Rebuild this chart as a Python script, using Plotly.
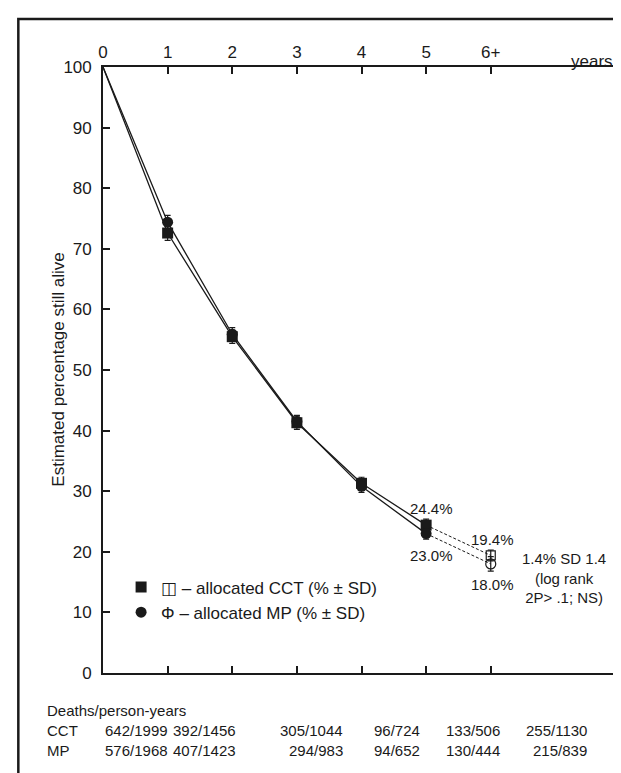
import plotly.graph_objects as go

# ---------------- data ----------------
years = [0, 1, 2, 3, 4, 5]
tick_vals = [0, 1, 2, 3, 4, 5, 6]
tick_labels = ["0", "1", "2", "3", "4", "5", "6+"]
y_ticks = [0, 10, 20, 30, 40, 50, 60, 70, 80, 90, 100]

cct_pct = [100, 72.6, 55.5, 41.3, 31.3, 24.4]
cct_sd = [0, 1.2, 1.1, 1.1, 1.0, 1.0]
mp_pct = [100, 74.4, 55.9, 41.5, 30.8, 23.0]
mp_sd = [0, 1.1, 1.1, 1.0, 1.0, 0.9]

late_year = 6
cct_late = 19.4
cct_late_sd = 0.9
mp_late = 18.0
mp_late_sd = 1.2

cct_deaths = [642, 392, 305, 96, 133, 255]
cct_pyears = [1999, 1456, 1044, 724, 506, 1130]
mp_deaths = [576, 407, 294, 94, 130, 215]
mp_pyears = [1968, 1423, 983, 652, 444, 839]

INK = "#1a1a1a"
FONT = "Liberation Sans, Arial, Helvetica, sans-serif"

fig = go.Figure()

# solid survival lines (0-5 years)
for vals in (cct_pct, mp_pct):
    fig.add_trace(go.Scatter(x=years, y=vals, mode="lines",
                             line=dict(color=INK, width=1.3),
                             showlegend=False, hoverinfo="skip"))
# dashed connectors to 6+
for vals, late in ((cct_pct, cct_late), (mp_pct, mp_late)):
    fig.add_trace(go.Scatter(x=[years[-1], late_year], y=[vals[-1], late],
                             mode="lines",
                             line=dict(color=INK, width=1, dash="3px,2px"),
                             showlegend=False, hoverinfo="skip"))

# filled markers years 1-5
fig.add_trace(go.Scatter(x=years[1:], y=cct_pct[1:], mode="markers",
                         marker=dict(symbol="square", size=11, color=INK),
                         error_y=dict(type="data", array=cct_sd[1:], color=INK,
                                      thickness=1.2, width=3),
                         name="\u25eb \u2013 allocated CCT (% \u00b1 SD)",
                         legendgroup="a"))
fig.add_trace(go.Scatter(x=years[1:], y=mp_pct[1:], mode="markers",
                         marker=dict(symbol="circle", size=11, color=INK),
                         error_y=dict(type="data", array=mp_sd[1:], color=INK,
                                      thickness=1.2, width=3),
                         name="\u03a6 \u2013 allocated MP (% \u00b1 SD)",
                         legendgroup="b"))
# open markers 6+
fig.add_trace(go.Scatter(x=[late_year], y=[cct_late], mode="markers",
                         marker=dict(symbol="square-open", size=9, color=INK,
                                     line=dict(width=1.2)),
                         error_y=dict(type="data", array=[cct_late_sd], color=INK,
                                      thickness=1.2, width=3),
                         showlegend=False))
fig.add_trace(go.Scatter(x=[late_year], y=[mp_late], mode="markers",
                         marker=dict(symbol="circle-open", size=10, color=INK,
                                     line=dict(width=1.2)),
                         error_y=dict(type="data", array=[mp_late_sd], color=INK,
                                      thickness=1.2, width=3),
                         showlegend=False))

ann = []
# value labels
ann.append(dict(x=years[-1], y=cct_pct[-1], text=f"{cct_pct[-1]:.1f}%", yshift=17, xshift=5))
ann.append(dict(x=years[-1], y=mp_pct[-1], text=f"{mp_pct[-1]:.1f}%", yshift=-22, xshift=5))
ann.append(dict(x=late_year, y=cct_late, text=f"{cct_late:.1f}%", yshift=16, xshift=2))
ann.append(dict(x=late_year, y=mp_late, text=f"{mp_late:.1f}%", yshift=-21, xshift=2))
for a in ann:
    a.update(xref="x", yref="y", showarrow=False, font=dict(size=15, color=INK, family=FONT))

diff = cct_late - mp_late
ann.append(dict(x=7.13, y=15.7, xref="x", yref="y", showarrow=False,
                text=f"{diff:.1f}% SD 1.4<br>(log rank<br>2P> .1; NS)",
                font=dict(size=15, color=INK, family=FONT), align="center"))
# "years" label
ann.append(dict(x=7.57, y=1.028, xref="x", yref="paper", showarrow=False,
                text="years", font=dict(size=17, color=INK, family=FONT)))
# y axis title
ann.append(dict(x=-0.11, y=0.5, xref="paper", yref="paper", showarrow=False,
                text="Estimated percentage still alive", textangle=-90,
                font=dict(size=17, color=INK, family=FONT)))

# table below
W, H, L, T = 519.0, 606.0, 95.0, 59.0
def px_x(px):
    return (px - L) / W
def px_y(py):
    return (T + H - py) / H

tfont = dict(size=15, color=INK, family=FONT)
ann.append(dict(x=px_x(37), y=px_y(713), xref="paper", yref="paper", showarrow=False,
                xanchor="left", text="Deaths/person-years", font=tfont))
ann.append(dict(x=px_x(37), y=px_y(733), xref="paper", yref="paper", showarrow=False,
                xanchor="left", text="CCT", font=tfont))
ann.append(dict(x=px_x(37), y=px_y(753), xref="paper", yref="paper", showarrow=False,
                xanchor="left", text="MP", font=tfont))
col_right = [162, 231, 338, 415, 496, 583]
for i, r in enumerate(col_right):
    ann.append(dict(x=px_x(r), y=px_y(733), xref="paper", yref="paper", showarrow=False,
                    xanchor="right", text=f"{cct_deaths[i]}/{cct_pyears[i]}", font=tfont))
    ann.append(dict(x=px_x(r), y=px_y(753), xref="paper", yref="paper", showarrow=False,
                    xanchor="right", text=f"{mp_deaths[i]}/{mp_pyears[i]}", font=tfont))

shapes = [dict(type="rect", xref="paper", yref="paper",
               x0=px_x(10), x1=px_x(640), y0=px_y(800), y1=px_y(11),
               line=dict(color=INK, width=2.5), fillcolor="rgba(0,0,0,0)", layer="above")]

fig.update_layout(
    width=621, height=773,
    margin=dict(l=95, r=7, t=59, b=108, pad=0),
    paper_bgcolor="white", plot_bgcolor="white",
    font=dict(family=FONT, color=INK, size=17),
    annotations=ann, shapes=shapes,
    legend=dict(x=0.035, y=px_y(592), xanchor="left", yanchor="middle",
                orientation="v", bgcolor="rgba(0,0,0,0)", borderwidth=0,
                font=dict(size=17, color=INK, family=FONT),
                itemsizing="trace", traceorder="grouped", tracegroupgap=0),
    showlegend=True,
)
fig.update_xaxes(range=[0, 8], side="top", tickmode="array", tickvals=tick_vals,
                 ticktext=tick_labels, ticks="inside", ticklen=7, tickwidth=1.5,
                 tickcolor=INK, showline=True, linecolor=INK, linewidth=1.7,
                 mirror="ticks", showgrid=False, zeroline=False,
                 tickfont=dict(size=17, color=INK, family=FONT))
fig.update_yaxes(range=[0, 100], tickmode="array", tickvals=y_ticks,
                 ticks="inside", ticklen=7, tickwidth=1.5, tickcolor=INK,
                 showline=True, linecolor=INK, linewidth=1.7, mirror="ticks",
                 showgrid=False, zeroline=False, ticklabelstandoff=6,
                 tickfont=dict(size=17, color=INK, family=FONT))

fig.write_html("out.html")
